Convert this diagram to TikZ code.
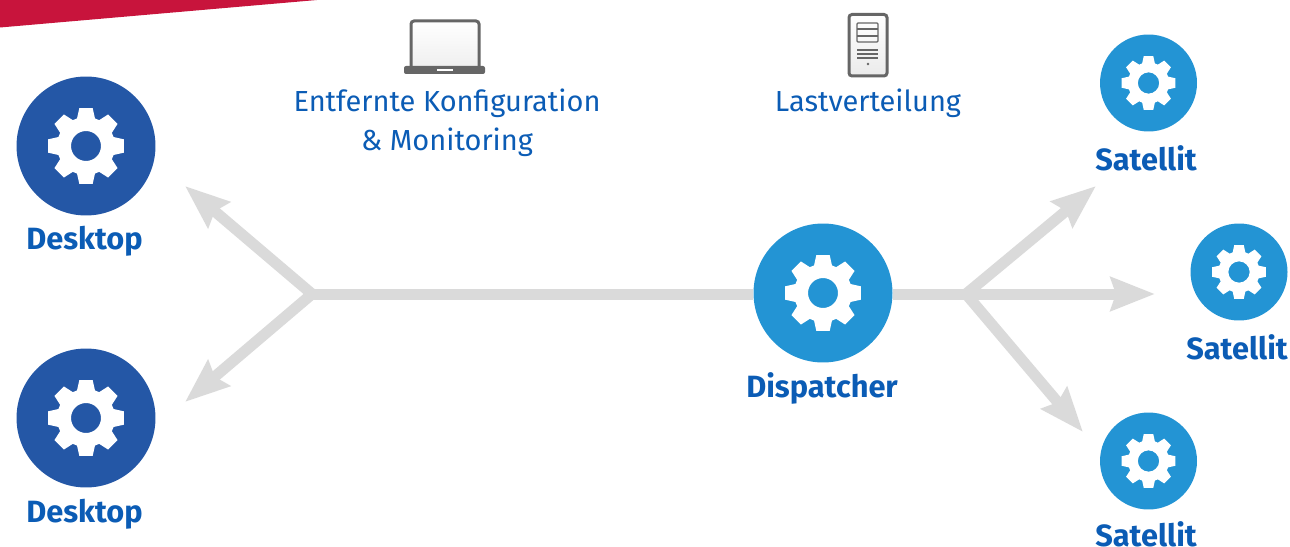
\documentclass[tikz,border=0pt]{standalone}
\usepackage{fontspec}
\setmainfont{Fira Sans}
\usetikzlibrary{arrows.meta}
\definecolor{deskblue}{HTML}{2457A6}
\definecolor{hubblue}{HTML}{2394D4}
\definecolor{textblue}{HTML}{0B5CB5}
\definecolor{flowgray}{HTML}{DADADA}
\definecolor{iconhull}{HTML}{666666}
\definecolor{crimson}{HTML}{C8143C}
\tikzset{
  x=0.02cm, y=-0.02cm,
  bigdisc/.style={circle, inner sep=0pt, minimum size=2.78cm},
  smalldisc/.style={circle, fill=hubblue, inner sep=0pt, minimum size=1.94cm},
  caption/.style={anchor=base, inner sep=0pt, text=textblue, font=\fontsize{17.5}{21}\selectfont\bfseries},
  note/.style={anchor=base, inner sep=0pt, text=textblue, font=\fontsize{16.5}{20}\selectfont},
  flow/.style={draw=flowgray, line width=0.22cm, miter limit=10,
    -{Stealth[length=0.88cm, width=0.66cm, inset=0.1cm]}},
  flowtwo/.style={flow, {Stealth[length=0.88cm, width=0.66cm, inset=0.1cm]}-{Stealth[length=0.88cm, width=0.66cm, inset=0.1cm]}},
  pics/gearicon/.style={code={
    \fill[white, even odd rule] (-18:29)
      \foreach \a in {0,45,...,315} {
        -- (\a-18:29) -- (\a-10:38.5) -- (\a+10:38.5) -- (\a+18:29)
      } -- cycle (0,0) circle (15);
  }}
}
\begin{document}
\begin{tikzpicture}
  \useasboundingbox (0,0) rectangle (1290,547);
  \fill[crimson] (0,0) -- (317,0) -- (0,27.5) -- cycle;

  \node[bigdisc, fill=deskblue] (desktopa) at (86,146) {};
  \node[bigdisc, fill=deskblue] (desktopb) at (86,418) {};
  \node[bigdisc, fill=hubblue] (dispatcher) at (823,293) {};
  \node[smalldisc] (sata) at (1148.5,83) {};
  \node[smalldisc] (satb) at (1239,272) {};
  \node[smalldisc] (satc) at (1148.5,461) {};

  \pic at (desktopa) {gearicon};
  \pic at (desktopb) {gearicon};
  \pic at (dispatcher) {gearicon};
  \pic[scale=.71] at (sata) {gearicon};
  \pic[scale=.71] at (satb) {gearicon};
  \pic[scale=.71] at (satc) {gearicon};

  \node[caption] (labela) at (84.5,249.5) {Desktop};
  \node[caption] (labelb) at (84.5,522.5) {Desktop};
  \node[caption] (labelc) at (822,397) {Dispatcher};
  \node[caption] (labeld) at (1146,171) {Satellit};
  \node[caption] (labele) at (1237,359) {Satellit};
  \node[caption] (labelf) at (1146,546) {Satellit};

  \node[note] (notea) at (447,112) {Entfernte Konfiguration};
  \node[note] (noteb) at (447,151) {\& Monitoring};
  \node[note] (notec) at (868,112) {Lastverteilung};

  \coordinate (leftfork) at (312,294);
  \coordinate (rightfork) at (966,294);
  \coordinate (tipa) at (185,186);
  \coordinate (tipb) at (185,402);
  \coordinate (tipc) at (1096,186);
  \coordinate (tipd) at (1155,294);
  \coordinate (tipe) at (1083,432);

  \draw[flowgray, line width=0.22cm] (dispatcher.west |- leftfork) -- (leftfork);
  \draw[flowtwo] (tipa) -- (leftfork) -- (tipb);
  \draw[flowtwo] (tipc) -- (rightfork) -- (tipe);
  \draw[flow] (dispatcher.east |- rightfork) -- (tipd);

  % laptop
  \draw[iconhull, line width=0.06cm, rounded corners=0.06cm, top color=white, bottom color=black!6]
    (411,66) -- (411,21) -- (479,21) -- (479,66);
  \fill[iconhull, rounded corners=0.04cm] (404,66) -- (485,66) -- (485,74) -- (404,74) -- cycle;
  \fill[white] (437,69) rectangle (453,71.5);

  % server
  \draw[iconhull, line width=0.06cm, rounded corners=0.06cm, top color=white, bottom color=black!8]
    (849,14.5) rectangle (887,76);
  \draw[iconhull, line width=0.025cm, rounded corners=0.02cm] (857,23) rectangle (878,42);
  \foreach \y in {29,36,50,54,58}
    \draw[iconhull, line width=0.025cm] (857,\y) -- (878,\y);
  \fill[iconhull] (868,64) circle (1.4);
\end{tikzpicture}
\end{document}
